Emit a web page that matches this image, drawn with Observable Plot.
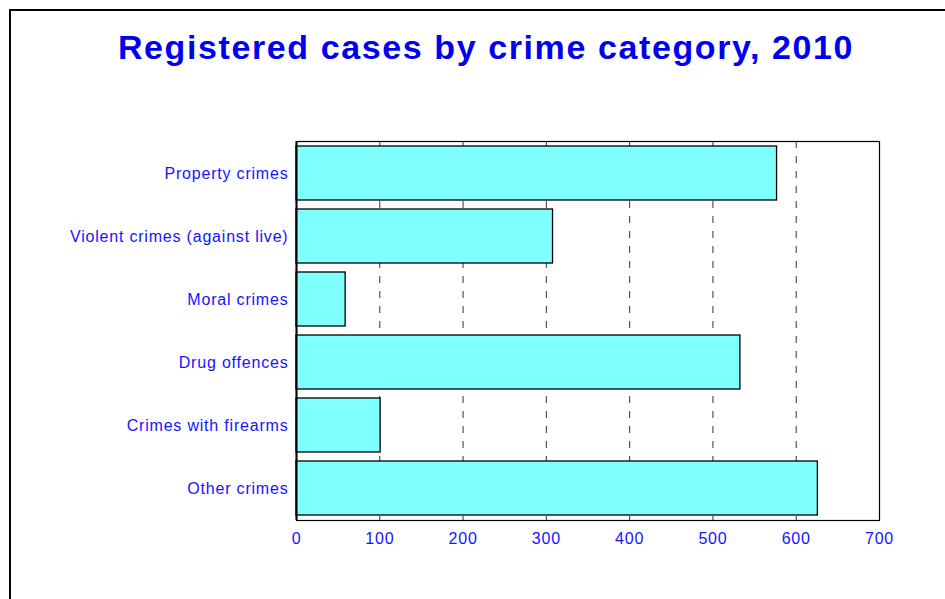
<!DOCTYPE html>
<html><head><meta charset="utf-8">
<script src="https://cdn.jsdelivr.net/npm/d3@7"></script>
<script src="https://cdn.jsdelivr.net/npm/@observablehq/plot@0.6"></script>
<style>
body{margin:0;background:#fff;}
#wrap{position:relative;width:945px;height:599px;overflow:hidden;background:#fff;}
#frame{position:absolute;left:9px;top:9px;width:1000px;height:700px;border-left:2px solid #000;border-top:2px solid #000;}
#title{position:absolute;left:0;width:972px;top:28px;text-align:center;font:bold 34px "Liberation Sans",Arial,sans-serif;color:#0000ee;letter-spacing:1.6px;}
#chart{position:absolute;left:0;top:0;}
#chart svg text{letter-spacing:0.8px;}
</style></head>
<body>
<div id="wrap">
  <div id="frame"></div>
  <div id="title">Registered cases by crime category, 2010</div>
  <div id="chart"></div>
</div>
<script>
const categories = ["Property crimes","Violent crimes (against live)","Moral crimes","Drug offences","Crimes with firearms","Other crimes"];
const cases = [577, 308, 59, 533, 101, 626];
const xTicks = [0, 100, 200, 300, 400, 500, 600, 700];
const gridTicks = [100, 200, 300, 400, 500, 600, 700];

const data = categories.map((c, i) => ({category: c, value: cases[i]}));

const chart = Plot.plot({
  width: 945, height: 599,
  marginLeft: 296, marginRight: 66, marginTop: 141, marginBottom: 79,
  style: {background: "transparent", fontFamily: "'Liberation Sans', Arial, sans-serif", fontSize: "16px", color: "#1414ff"},
  x: {domain: [0, 700], label: null},
  y: {domain: categories, paddingInner: 0.15, paddingOuter: 0.07, label: null},
  marks: [
    Plot.ruleX(gridTicks, {stroke: "#333", strokeWidth: 1, strokeDasharray: "7,8"}),
    Plot.barX(data, {x: "value", y: "category", fill: "#80ffff", stroke: "#000", strokeWidth: 1.3}),
    Plot.frame({stroke: "#000", strokeWidth: 1.2}),
    Plot.ruleX([0], {stroke: "#000", strokeWidth: 2}),
    Plot.axisX({ticks: xTicks, tickSize: 0, tickPadding: 12, fill: "#1414ff", label: null}),
    Plot.axisY({tickSize: 0, tickPadding: 8, fill: "#1414ff", label: null})
  ]
});
document.getElementById("chart").appendChild(chart);
</script>
</body></html>
